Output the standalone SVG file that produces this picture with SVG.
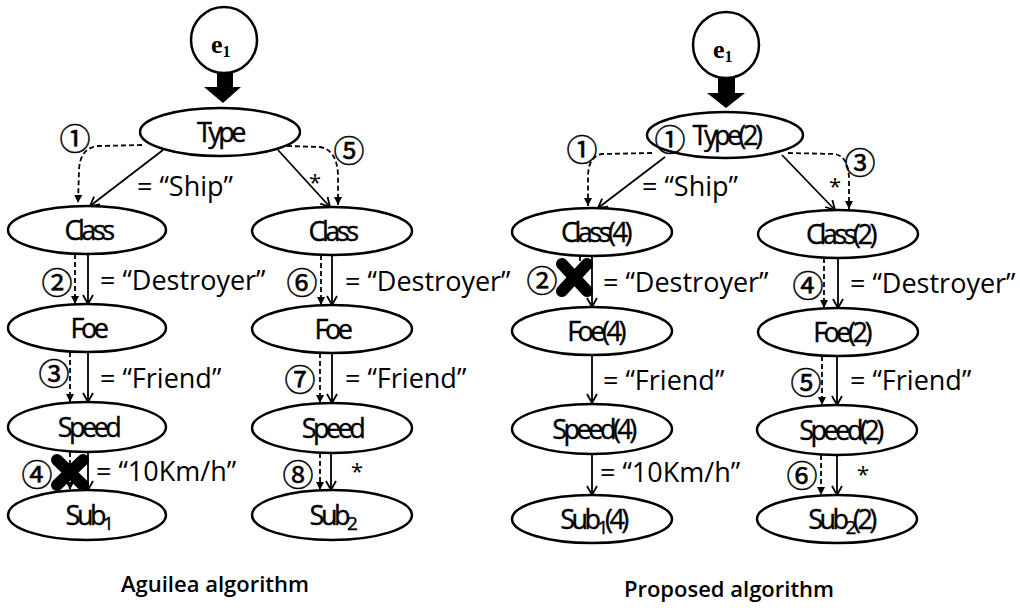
<svg xmlns="http://www.w3.org/2000/svg" width="1020" height="614" viewBox="0 0 1020 614">
<style>
.nd ellipse{fill:#fff;stroke:#000;stroke-width:2.5}
.nd circle{fill:#fff;stroke:#000;stroke-width:2.5}
.nl{font-family:"Open Sans","Liberation Sans",sans-serif;font-size:27px;letter-spacing:-3.5px;text-anchor:middle;fill:#000;stroke:#000;stroke-width:0.4}
.el{font-family:"Open Sans","Liberation Sans",sans-serif;font-size:27px;fill:#000}
.cn{font-family:"Noto Sans CJK JP","DejaVu Sans",sans-serif;font-size:31px;text-anchor:middle;dominant-baseline:central;fill:#000;stroke:#000;stroke-width:0.5}
.cap{font-family:"Open Sans","Liberation Sans",sans-serif;font-size:22px;font-weight:600;text-anchor:middle;fill:#000}
.e1{font-family:"Liberation Serif","DejaVu Serif",serif;font-weight:bold;font-size:26px;fill:#000}
.s{stroke:#000;stroke-width:1.8;fill:none;marker-end:url(#va)}
.d{stroke:#000;stroke-width:1.8;fill:none;stroke-dasharray:5 3;marker-end:url(#ta)}
.x{stroke:#000;stroke-width:12;stroke-linecap:round}
</style>
<defs>
<marker id="va" markerWidth="12" markerHeight="12" refX="10" refY="6" orient="auto" markerUnits="userSpaceOnUse">
<path d="M1,1 L10,6 L1,11" fill="none" stroke="#000" stroke-width="1.8"/>
</marker>
<marker id="ta" markerWidth="10" markerHeight="10" refX="8" refY="5" orient="auto" markerUnits="userSpaceOnUse">
<path d="M0,1 L8,5 L0,9 Z" fill="#000"/>
</marker>
</defs>

<g id="connectors">
<polygon points="217,72 233,72 233,87 241,87 223,103 204,87 217,87" fill="#000"/>
<polygon points="718,78 735,78 735,93 745,93 726,108 707,93 718,93" fill="#000"/>
<line class="s" x1="163" y1="150" x2="90" y2="206"/>
<line class="s" x1="278" y1="150" x2="330" y2="207"/>
<line class="s" x1="88" y1="253" x2="88" y2="304"/>
<line class="s" x1="88" y1="352" x2="88" y2="402"/>
<line class="s" x1="88" y1="452" x2="88" y2="490"/>
<line class="s" x1="332" y1="255" x2="332" y2="305"/>
<line class="s" x1="332" y1="353" x2="332" y2="403"/>
<line class="s" x1="331" y1="453" x2="331" y2="490"/>
<path class="d" d="M142,145 L98,146 Q80,148 79,170 L78,203"/>
<path class="d" d="M287,146 L320,147 Q337,150 338,175 L338,205"/>
<line class="d" x1="75" y1="254" x2="75" y2="304"/>
<line class="d" x1="70" y1="352" x2="70" y2="402"/>
<line class="d" x1="70" y1="452" x2="70" y2="490"/>
<line class="d" x1="321" y1="255" x2="321" y2="305"/>
<line class="d" x1="320" y1="353" x2="320" y2="403"/>
<line class="d" x1="320" y1="453" x2="320" y2="490"/>
<line class="s" x1="665" y1="157" x2="598" y2="208"/>
<line class="s" x1="782" y1="155" x2="835" y2="210"/>
<line class="s" x1="592" y1="256" x2="592" y2="307"/>
<line class="s" x1="592" y1="355" x2="592" y2="403"/>
<line class="s" x1="592" y1="455" x2="592" y2="495"/>
<line class="s" x1="838" y1="258" x2="838" y2="308"/>
<line class="s" x1="837" y1="356" x2="837" y2="405"/>
<line class="s" x1="837" y1="455" x2="837" y2="495"/>
<path class="d" d="M652,153 L602,154 Q589,156 588,175 L588,206"/>
<path class="d" d="M788,153 L835,154 Q849,157 849,180 L849,209"/>
<line stroke="#000" stroke-width="1.8" stroke-dasharray="5 3" x1="580" y1="256" x2="580" y2="290"/>
<line class="d" x1="824" y1="258" x2="824" y2="308"/>
<line class="d" x1="822" y1="356" x2="822" y2="405"/>
<line class="d" x1="821" y1="455" x2="821" y2="495"/>
<line class="x" x1="57" y1="460" x2="83" y2="485"/>
<line class="x" x1="83" y1="460" x2="57" y2="485"/>
<line class="x" x1="562" y1="264" x2="587" y2="291"/>
<line class="x" x1="587" y1="264" x2="562" y2="291"/>
<text class="el" x="137" y="196">= “Ship”</text>
<text class="el" x="100" y="290">= “Destroyer”</text>
<text class="el" x="100" y="388">= “Friend”</text>
<text class="el" x="96" y="481">= “10Km/h”</text>
<text class="el" x="345" y="291">= “Destroyer”</text>
<text class="el" x="345" y="388">= “Friend”</text>
<text class="el" x="309" y="190" style="font-size:22px">*</text>
<text class="el" x="351" y="479" style="font-size:22px">*</text>
<text class="el" x="642" y="196">= “Ship”</text>
<text class="el" x="603" y="292">= “Destroyer”</text>
<text class="el" x="603" y="390">= “Friend”</text>
<text class="el" x="600" y="482">= “10Km/h”</text>
<text class="el" x="850" y="293">= “Destroyer”</text>
<text class="el" x="850" y="390">= “Friend”</text>
<text class="el" x="829" y="194" style="font-size:22px">*</text>
<text class="el" x="857" y="482" style="font-size:22px">*</text>
<text class="cn" x="75" y="136">①</text>
<text class="cn" x="349" y="148">⑤</text>
<text class="cn" x="57" y="280">②</text>
<text class="cn" x="54" y="371">③</text>
<text class="cn" x="37" y="472">④</text>
<text class="cn" x="302" y="280">⑥</text>
<text class="cn" x="300" y="377">⑦</text>
<text class="cn" x="298" y="472">⑧</text>
<text class="cn" x="582" y="147">①</text>
<text class="cn" x="860" y="160">③</text>
<text class="cn" x="542" y="278">②</text>
<text class="cn" x="808" y="283">④</text>
<text class="cn" x="806" y="380">⑤</text>
<text class="cn" x="802" y="473">⑥</text>
</g>

<g id="e1-left" class="nd"><circle cx="224" cy="40" r="33"/><text class="e1" x="211" y="53">e<tspan font-size="16" dy="4">1</tspan></text></g>
<g id="type-left" class="nd"><ellipse cx="220" cy="132" rx="80" ry="24"/><text class="nl" x="220" y="142">Type</text></g>
<g id="class-left" class="nd"><ellipse cx="87" cy="230" rx="79" ry="24"/><text class="nl" x="88" y="240">Class</text></g>
<g id="foe-left" class="nd"><ellipse cx="87" cy="328" rx="79" ry="24"/><text class="nl" x="88" y="338">Foe</text></g>
<g id="speed-left" class="nd"><ellipse cx="87" cy="427" rx="79" ry="25"/><text class="nl" x="88" y="437">Speed</text></g>
<g id="sub1-left" class="nd"><ellipse cx="87" cy="515" rx="79" ry="25"/><text class="nl" x="88" y="525">Sub<tspan font-size="19" dy="5">1</tspan></text></g>
<g id="class-right" class="nd"><ellipse cx="332" cy="231" rx="80" ry="24"/><text class="nl" x="332" y="241">Class</text></g>
<g id="foe-right" class="nd"><ellipse cx="332" cy="329" rx="80" ry="24"/><text class="nl" x="332" y="339">Foe</text></g>
<g id="speed-right" class="nd"><ellipse cx="332" cy="428" rx="80" ry="25"/><text class="nl" x="332" y="438">Speed</text></g>
<g id="sub2-left" class="nd"><ellipse cx="332" cy="515" rx="80" ry="25"/><text class="nl" x="332" y="525">Sub<tspan font-size="19" dy="5">2</tspan></text></g>

<g id="e1-right" class="nd"><circle cx="726" cy="45" r="33"/><text class="e1" x="713" y="58">e<tspan font-size="16" dy="4">1</tspan></text></g>
<g id="type2" class="nd"><ellipse cx="725" cy="135" rx="78" ry="23"/><text class="cn" x="670" y="137">①</text><text class="nl" x="726" y="145">Type(2)</text></g>
<g id="class4" class="nd"><ellipse cx="592" cy="232" rx="80" ry="24"/><text class="nl" x="595" y="242">Class(4)</text></g>
<g id="foe4" class="nd"><ellipse cx="592" cy="331" rx="80" ry="24"/><text class="nl" x="595" y="341">Foe(4)</text></g>
<g id="speed4" class="nd"><ellipse cx="592" cy="429" rx="80" ry="25"/><text class="nl" x="593" y="439">Speed(4)</text></g>
<g id="sub1-4" class="nd"><ellipse cx="592" cy="519" rx="80" ry="24"/><text class="nl" x="593" y="529">Sub<tspan font-size="19" dy="5">1</tspan><tspan dy="-5">(4)</tspan></text></g>
<g id="class2" class="nd"><ellipse cx="838" cy="234" rx="80" ry="24"/><text class="nl" x="840" y="244">Class(2)</text></g>
<g id="foe2" class="nd"><ellipse cx="838" cy="332" rx="80" ry="24"/><text class="nl" x="841" y="342">Foe(2)</text></g>
<g id="speed2" class="nd"><ellipse cx="837" cy="430" rx="80" ry="25"/><text class="nl" x="840" y="440">Speed(2)</text></g>
<g id="sub2-2" class="nd"><ellipse cx="837" cy="519" rx="80" ry="24"/><text class="nl" x="841" y="529">Sub<tspan font-size="19" dy="5">2</tspan><tspan dy="-5">(2)</tspan></text></g>

<text class="cap" x="215" y="592">Aguilea algorithm</text>
<text class="cap" x="729" y="597">Proposed algorithm</text>
</svg>
